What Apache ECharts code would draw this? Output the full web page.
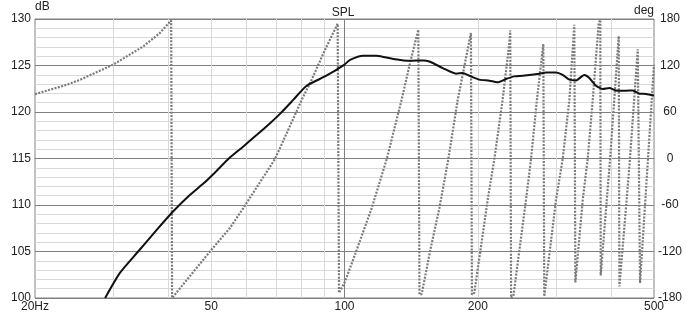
<!DOCTYPE html>
<html><head><meta charset="utf-8">
<script src="https://cdn.jsdelivr.net/npm/echarts@6/dist/echarts.min.js"></script>
<style>html,body{margin:0;padding:0;background:#fff}#c{width:686px;height:314px}</style>
</head><body><div id="c"></div>
<script>
// Tick labels / grid frequencies
const xTickLabels = [20, 50, 100, 200, 500];
const xMinorGrid = [30, 40, 50, 60, 70, 80, 90, 200, 300, 400];
const xMajorGrid = [100];

// SPL curve (Hz, dB)
const splFreq = [28.8, 31.1, 34.2, 37.7, 41, 44.8, 48, 51, 54.8, 59.1, 63.4, 67.9, 71.5, 76.6, 82, 91, 100, 102.9, 110.2, 118.2, 128.9, 140.6, 150.7, 156, 167.1, 178.6, 184.9, 191.4, 201.6, 212.4, 221.8, 231.6, 241.8, 252.6, 275.4, 285.2, 300.4, 311, 322, 333.4, 348, 357.2, 369.8, 383, 396.4, 410.4, 432.2, 447.6, 463.2, 479.6, 500];
const splDb = [100, 102.7, 105, 107.35, 109.3, 111.1, 112.3, 113.5, 115, 116.3, 117.55, 118.8, 119.8, 121.3, 122.8, 123.9, 125.1, 125.6, 126.05, 126.05, 125.7, 125.5, 125.55, 125.4, 124.7, 124.12, 124.19, 123.9, 123.48, 123.37, 123.19, 123.55, 123.83, 123.9, 124.12, 124.26, 124.26, 124.0, 123.48, 123.4, 123.98, 123.66, 122.83, 122.47, 122.58, 122.32, 122.29, 122.32, 121.97, 121.94, 121.78];

// Phase curve (Hz, deg), wrapped
const phaseFreq = [20, 23.6, 25.3, 30, 35.1, 38.3, 40.6, 40.8,
  49.7, 55.1, 59.1, 69.7, 80.1, 84.3, 90.4, 96.5, 97.2,
  100.3, 106.6, 115.2, 124.6, 134.6, 140.6, 146.8, 147.7,
  149.4, 156, 163.8, 171.6, 180.2, 193, 194,
  196.4, 210.6, 218, 227.6, 235.6, 236.8, 237.8,
  240.6, 257, 263.8, 272, 281.2, 282.6,
  285.2, 300.4, 311, 322, 330.4, 332.2,
  334.2, 345.2, 354.2, 363.6, 375, 378.2, 379,
  381, 398, 416.2, 417.7,
  421.2, 440, 459.5, 465,
  467.3, 500];
const phaseDeg = [83, 95.2, 101.6, 121, 144.6, 162, 178, -180,
  -119.9, -89.7, -63.9, -0.5, 75.9, 101.7, 140.4, 173.9, -173.5,
  -158.6, -117.7, -63.9, -0.5, 75.9, 123.2, 166.2, -175.6,
  -175, -119.9, -63.9, -0.5, 75.9, 162, -175.6,
  -173.5, -53.2, -0.5, 75.9, 149, 165.3, -180,
  -178, -53.2, -0.5, 75.9, 147.7, -178,
  -176, -53.2, -0.5, 75.9, 172.6, -160,
  -158, -53.2, -0.5, 75.9, 174.8, 179, -151,
  -151, 0, 158, -165,
  -165, -10, 141, -160.6,
  -160, 121];

const splData = splFreq.map((f, i) => [f, splDb[i]]);
const phaseData = phaseFreq.map((f, i) => [f, phaseDeg[i]]);

const font = 'Liberation Sans, Arial, sans-serif';
const chart = echarts.init(document.getElementById('c'), null, {renderer: 'canvas'});
chart.setOption({
  animation: false,
  backgroundColor: '#ffffff',
  textStyle: {fontFamily: font},
  title: {text: 'SPL', left: 'center', top: 2, textStyle: {fontSize: 12, fontWeight: 'normal', color: '#222', fontFamily: font}},
  grid: {left: 35, right: 32, top: 19, bottom: 16, containLabel: false, outerBoundsMode: 'none', show: true, borderColor: '#808080', borderWidth: 1, backgroundColor: '#fff'},
  xAxis: {
    type: 'log', logBase: 10, min: 20, max: 500,
    axisLine: {show: true, lineStyle: {color: '#808080', width: 1}},
    axisTick: {show: false},
    splitLine: {show: false},
    axisLabel: {customValues: xTickLabels, formatter: v => (Math.round(v) === 20 ? '20Hz' : String(Math.round(v))), margin: 3, fontSize: 12, color: '#222', showMinLabel: true, showMaxLabel: true, hideOverlap: false}
  },
  yAxis: [{
    type: 'value', min: 100, max: 130, interval: 5,
    name: 'dB', nameLocation: 'end', nameGap: 2,
    nameTextStyle: {align: 'left', fontSize: 12, color: '#222'},
    axisLine: {show: false}, axisTick: {show: false},
    axisLabel: {margin: 4, fontSize: 12, color: '#222', padding: [0, 0, 3, 0]},
    splitLine: {show: true, lineStyle: {color: '#808080', width: 1}},
    minorTick: {show: false, splitNumber: 5},
    minorSplitLine: {show: true, lineStyle: {color: '#d9d9d9', width: 1}}
  }, {
    type: 'value', min: -180, max: 180, interval: 60, position: 'right',
    name: 'deg', nameLocation: 'end', nameGap: 2,
    nameTextStyle: {align: 'right', fontSize: 12, color: '#222'},
    axisLine: {show: false}, axisTick: {show: false},
    axisLabel: {margin: 16, align: 'center', fontSize: 12, color: '#222', padding: [0, 0, 3, 0]},
    splitLine: {show: false}
  }],
  series: [{
    name: 'grid', type: 'line', xAxisIndex: 0, yAxisIndex: 0, z: 1,
    data: [[20, 100]], showSymbol: false, lineStyle: {width: 0}, silent: true,
    markLine: {
      silent: true, symbol: 'none', z: 1, animation: false,
      label: {show: false},
      lineStyle: {color: '#d9d9d9', width: 1, type: 'solid'},
      emphasis: {disabled: true},
      data: xMinorGrid.map(v => ({xAxis: v})).concat(xMajorGrid.map(v => ({xAxis: v, lineStyle: {color: '#808080', width: 1, type: 'solid'}})))
    }
  }, {
    name: 'Phase', type: 'line', xAxisIndex: 0, yAxisIndex: 1, z: 2,
    data: phaseData, showSymbol: false, smooth: false, silent: true,
    lineStyle: {color: '#7a7a7a', width: 2.2, type: [2, 1.4], cap: 'butt'}
  }, {
    name: 'SPL', type: 'line', xAxisIndex: 0, yAxisIndex: 0, z: 3,
    data: splData, showSymbol: false, smooth: 0.2, silent: true,
    lineStyle: {color: '#111', width: 2}
  }]
});
</script>
</body></html>
